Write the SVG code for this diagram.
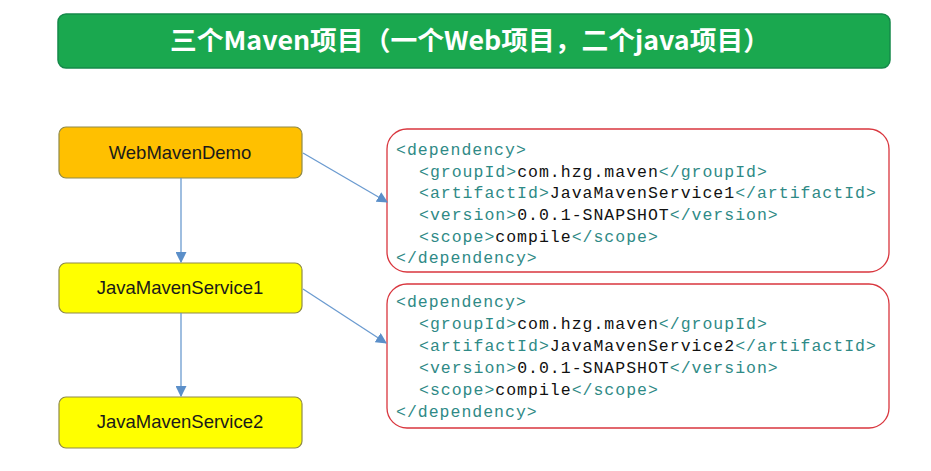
<svg xmlns="http://www.w3.org/2000/svg" width="931" height="471" viewBox="0 0 931 471">
<defs>
<style>
.node rect{stroke:#8f8a4a;stroke-width:1.2}
.node text{font-family:"Liberation Sans",Arial,sans-serif;font-size:18.5px;fill:#1a1a1a;text-anchor:middle}
.code rect{fill:#fff;stroke:#d9363e;stroke-width:1.3}
.code text{font-family:"Liberation Mono","DejaVu Sans Mono",monospace;font-size:16.5px;letter-spacing:1px;fill:#2f8a86}
.code tspan.v{fill:#111}
.conn line{stroke:#6b9bd0;stroke-width:1.3;fill:none}
</style>
<marker id="arr" viewBox="0 0 10 10" refX="9" refY="5" markerWidth="11" markerHeight="11" markerUnits="userSpaceOnUse" orient="auto">
<path d="M0,0 L10,5 L0,10 z" fill="#5b8fc9"/>
</marker>
</defs>
<rect width="931" height="471" fill="#fff"/>
<g id="title">
<rect x="58" y="14" width="832" height="54" rx="8" fill="#1aa84f" stroke="#15894a" stroke-width="1.5"/>
<text x="470" y="50" font-family="'Noto Sans CJK SC',sans-serif" font-weight="bold" font-size="26" fill="#fff" text-anchor="middle" textLength="600" lengthAdjust="spacingAndGlyphs">三个Maven项目（一个Web项目，二个java项目）</text>
</g>
<g id="WebMavenDemo" class="node">
<rect x="59" y="127" width="243" height="51" rx="7" fill="#ffc000"/>
<text x="180" y="159">WebMavenDemo</text>
</g>
<g id="JavaMavenService1" class="node">
<rect x="59" y="263" width="243" height="50" rx="7" fill="#ffff00"/>
<text x="180" y="294">JavaMavenService1</text>
</g>
<g id="JavaMavenService2" class="node">
<rect x="59" y="397" width="243" height="51" rx="7" fill="#ffff00"/>
<text x="180" y="428">JavaMavenService2</text>
</g>
<g id="dep1" class="code">
<rect x="387" y="129" width="502" height="143" rx="20"/>
<text x="396" y="155">&lt;dependency&gt;</text>
<text x="419" y="177">&lt;groupId&gt;<tspan class="v">com.hzg.maven</tspan>&lt;/groupId&gt;</text>
<text x="419" y="198">&lt;artifactId&gt;<tspan class="v">JavaMavenService1</tspan>&lt;/artifactId&gt;</text>
<text x="419" y="220">&lt;version&gt;<tspan class="v">0.0.1-SNAPSHOT</tspan>&lt;/version&gt;</text>
<text x="419" y="242">&lt;scope&gt;<tspan class="v">compile</tspan>&lt;/scope&gt;</text>
<text x="396" y="263">&lt;/dependency&gt;</text>
</g>
<g id="dep2" class="code">
<rect x="387" y="284" width="502" height="144" rx="20"/>
<text x="396" y="307">&lt;dependency&gt;</text>
<text x="419" y="329">&lt;groupId&gt;<tspan class="v">com.hzg.maven</tspan>&lt;/groupId&gt;</text>
<text x="419" y="351">&lt;artifactId&gt;<tspan class="v">JavaMavenService2</tspan>&lt;/artifactId&gt;</text>
<text x="419" y="373">&lt;version&gt;<tspan class="v">0.0.1-SNAPSHOT</tspan>&lt;/version&gt;</text>
<text x="419" y="395">&lt;scope&gt;<tspan class="v">compile</tspan>&lt;/scope&gt;</text>
<text x="396" y="417">&lt;/dependency&gt;</text>
</g>
<g id="connectors" class="conn">
<line x1="181" y1="178" x2="181" y2="262" marker-end="url(#arr)"/>
<line x1="181" y1="313" x2="181" y2="396" marker-end="url(#arr)"/>
<line x1="303" y1="153" x2="387" y2="202" marker-end="url(#arr)"/>
<line x1="303" y1="289" x2="386" y2="343" marker-end="url(#arr)"/>
</g>
</svg>
